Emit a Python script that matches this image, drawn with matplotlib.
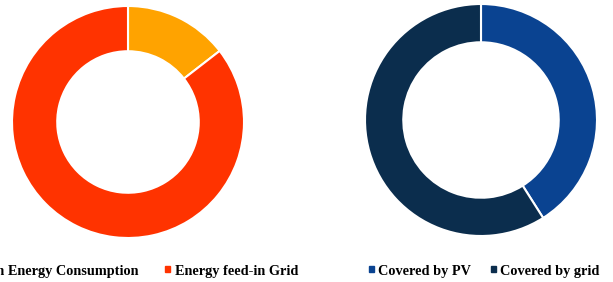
import matplotlib.pyplot as plt
from matplotlib.patches import Patch

# Data
left_labels = ["Own Energy Consumption", "Energy feed-in Grid"]
left_values = [14.5, 85.5]
left_colors = ["#FFA300", "#FF3300"]

right_labels = ["Covered by PV", "Covered by grid"]
right_values = [41, 59]
right_colors = ["#0A4391", "#0B2D4D"]

W, H = 613, 282
fig = plt.figure(figsize=(W / 100, H / 100), dpi=100)


def px_axes(x, y, w, h):
    # pixel box (top-left origin) -> figure fraction
    return fig.add_axes([x / W, 1 - (y + h) / H, w / W, h / H])


def donut(ax, values, colors, width):
    ax.pie(values, colors=colors, startangle=90, counterclock=False,
           radius=1.0, wedgeprops=dict(width=width, edgecolor="white", linewidth=1.5))
    ax.set_xlim(-1.0, 1.0)
    ax.set_ylim(-1.0, 1.0)
    ax.set_aspect("equal")
    ax.axis("off")


ax1 = px_axes(12, 6, 232, 232)
donut(ax1, left_values, left_colors, 0.39)

ax2 = px_axes(365, 4, 232, 232)
donut(ax2, right_values, right_colors, 0.33)

font = dict(family="Liberation Serif", weight="bold", size=10.3)
common = dict(ncol=2, frameon=False, prop=font, handlelength=0.35, handleheight=0.3,
              handletextpad=0.3, borderaxespad=0, borderpad=0)

h1 = [Patch(color=c) for c in left_colors]
fig.legend(h1, left_labels, loc="center right", bbox_to_anchor=(298 / W, 1 - 271 / H),
           columnspacing=1.9, **common)

h2 = [Patch(color=c) for c in right_colors]
fig.legend(h2, right_labels, loc="center left", bbox_to_anchor=(369 / W, 1 - 271 / H),
           columnspacing=1.4, **common)

fig.savefig("out.png", dpi=100)
